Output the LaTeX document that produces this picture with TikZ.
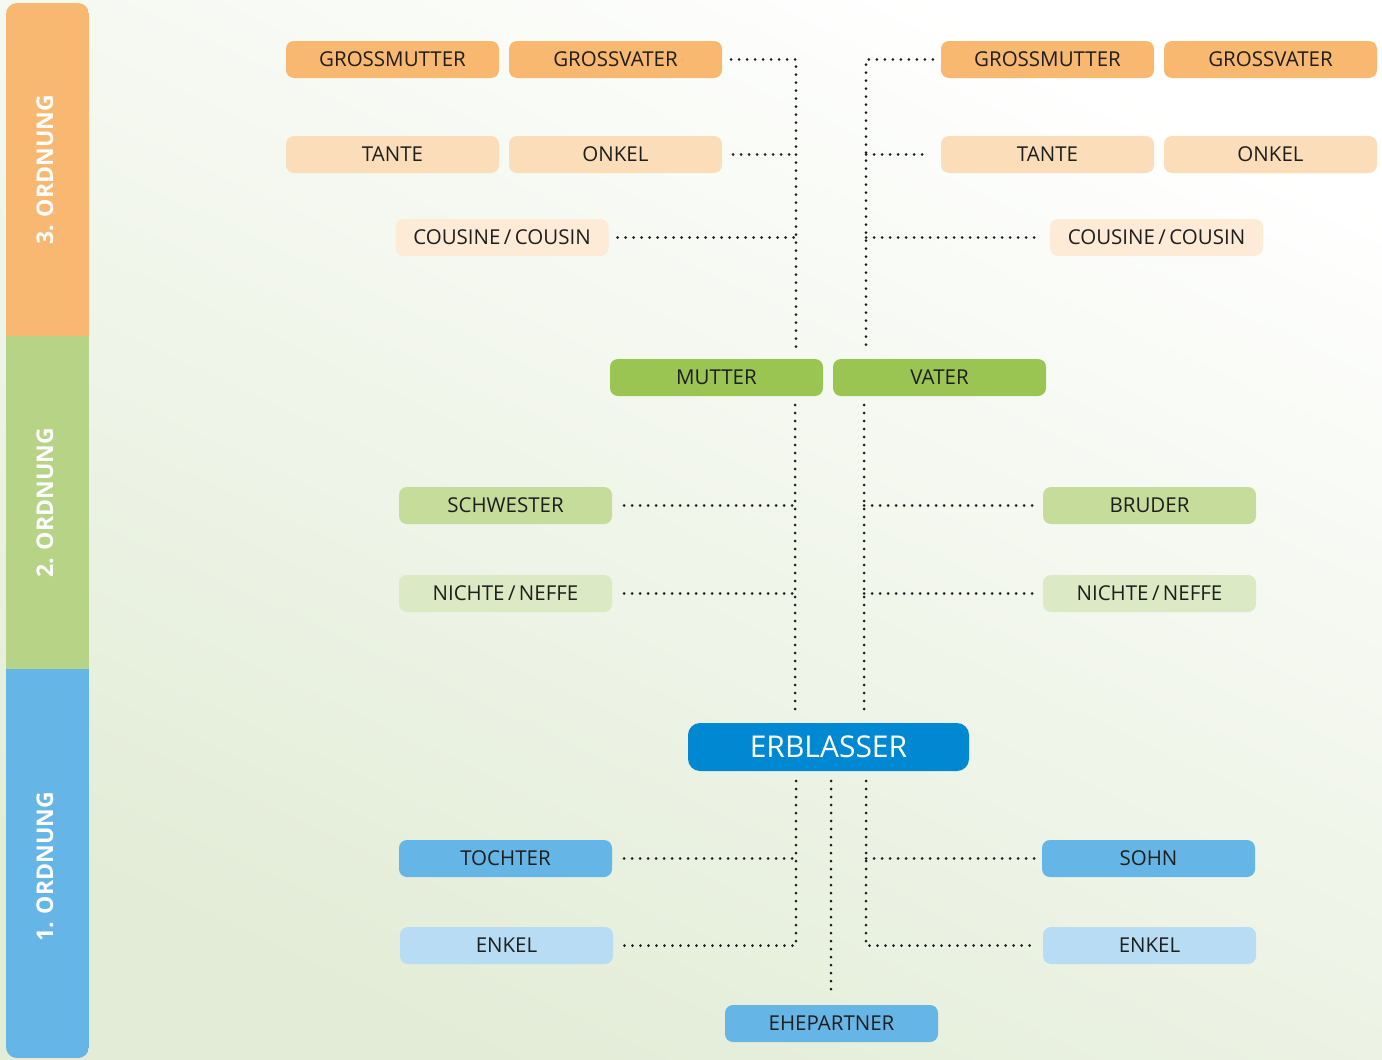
\documentclass[tikz,border=0pt]{standalone}
\usepackage{fontspec}
\setmainfont{Open Sans}
\usetikzlibrary{calc}

\begin{document}
\begin{tikzpicture}[x=1pt,y=-1pt,
  box/.style={rounded corners=8pt,minimum width=213pt,minimum height=37pt,inner sep=0pt,
    text=txt,font=\fontsize{20.5}{23}\selectfont},
  dots/.style={line width=3pt,line cap=round,dash pattern=on 0pt off 8pt,color=txt},
  band/.style={rotate=90,text=white,font=\bfseries\fontsize{23}{26}\selectfont}]

\definecolor{txt}{HTML}{1E1E1E}
\definecolor{bggreen}{HTML}{E2ECD6}
\definecolor{or1}{HTML}{F9B870}
\definecolor{or2}{HTML}{FCDDB9}
\definecolor{or3}{HTML}{FDEBD8}
\definecolor{gr1}{HTML}{9BC553}
\definecolor{gr2}{HTML}{C5DC9B}
\definecolor{gr3}{HTML}{DCE9C5}
\definecolor{bl0}{HTML}{0089D2}
\definecolor{bl1}{HTML}{65B5E6}
\definecolor{bl2}{HTML}{B9DCF5}
\definecolor{bandor}{HTML}{F9B872}
\definecolor{bandgr}{HTML}{B6D386}

\useasboundingbox (0,0) rectangle (1382,1060);
\shade[top color=white,bottom color=bggreen,shading angle=-25] (0,0) rectangle (1382,1060);

% Ordnung band
\begin{scope}
\clip[rounded corners=11pt] (6,3) rectangle (89,1058);
\fill[bandor] (6,3) rectangle (89,336);
\fill[bandgr] (6,336) rectangle (89,669);
\fill[bl1] (6,669) rectangle (89,1058);
\end{scope}
\node[band] (o3) at (45,170) {3. ORDNUNG};
\node[band] (o2) at (45,503) {2. ORDNUNG};
\node[band] (o1) at (45,867) {1. ORDNUNG};

% 3. Ordnung
\node[box,fill=or1] (gm1) at (392.5,59.5) {GROSSMUTTER};
\node[box,fill=or1] (gv1) at (615.5,59.5) {GROSSVATER};
\node[box,fill=or2] (ta1) at (392.5,154.5) {TANTE};
\node[box,fill=or2] (on1) at (615.5,154.5) {ONKEL};
\node[box,fill=or3] (co1) at (502,237.5) {COUSINE\,/\,COUSIN};
\node[box,fill=or1] (gm2) at (1047.5,59.5) {GROSSMUTTER};
\node[box,fill=or1] (gv2) at (1270.5,59.5) {GROSSVATER};
\node[box,fill=or2] (ta2) at (1047.5,154.5) {TANTE};
\node[box,fill=or2] (on2) at (1270.5,154.5) {ONKEL};
\node[box,fill=or3] (co2) at (1156.5,237.5) {COUSINE\,/\,COUSIN};

% 2. Ordnung
\node[box,fill=gr1] (mu) at (716.5,377.5) {MUTTER};
\node[box,fill=gr1] (va) at (939.5,377.5) {VATER};
\node[box,fill=gr2] (sw) at (505.5,505.5) {SCHWESTER};
\node[box,fill=gr3] (ni1) at (505.5,593.5) {NICHTE\,/\,NEFFE};
\node[box,fill=gr2] (br) at (1149.5,505.5) {BRUDER};
\node[box,fill=gr3] (ni2) at (1149.5,593.5) {NICHTE\,/\,NEFFE};

% 1. Ordnung
\node[box,fill=bl0,text=white,minimum width=281pt,minimum height=48pt,rounded corners=12pt,
  font=\fontsize{30}{33}\selectfont] (er) at (828.5,747) {ERBLASSER};
\node[box,fill=bl1] (to) at (505.5,858.5) {TOCHTER};
\node[box,fill=bl2] (en1) at (506.5,945.5) {ENKEL};
\node[box,fill=bl1] (so) at (1148.5,858.5) {SOHN};
\node[box,fill=bl2] (en2) at (1149.5,945.5) {ENKEL};
\node[box,fill=bl1] (eh) at (831.5,1023.5) {EHEPARTNER};

% trunks
\coordinate (a1) at (796,59.5); \coordinate (a2) at (796,350);
\coordinate (b1) at (866,59.5); \coordinate (b2) at (866,350);
\coordinate (c1) at (795,405);  \coordinate (c2) at (795,715);
\coordinate (d1) at (864,405);  \coordinate (d2) at (864,715);
\coordinate (e1) at (796,781);  \coordinate (e2) at (796,945.5);
\coordinate (f1) at (866,781);  \coordinate (f2) at (866,945.5);
\coordinate (g1) at (831,781);  \coordinate (g2) at (831,995);

\draw[dots] ([xshift=9pt]gv1.east) -- (a1) -- (a2);
\draw[dots] ([xshift=11pt]on1.east) -- (on1.east -| a1);
\draw[dots] ([xshift=9pt]co1.east) -- (co1.east -| a1);
\draw[dots] ([xshift=-8pt]gm2.west) -- (b1) -- (b2);
\draw[dots] (ta2.west -| b1) -- ([xshift=-12pt]ta2.west);
\draw[dots] (co2.west -| b1) -- ([xshift=-8pt]co2.west);

\draw[dots] (c1) -- (c2);
\draw[dots] ([xshift=12pt]sw.east) -- (sw.east -| c1);
\draw[dots] ([xshift=12pt]ni1.east) -- (ni1.east -| c1);
\draw[dots] (d1) -- (d2);
\draw[dots] (br.west -| d1) -- ([xshift=-8pt]br.west);
\draw[dots] (ni2.west -| d1) -- ([xshift=-8pt]ni2.west);

\draw[dots] (e1) -- (e2) -- ([xshift=11pt]en1.east);
\draw[dots] ([xshift=12pt]to.east) -- (to.east -| e1);
\draw[dots] (f1) -- (f2) -- ([xshift=-11pt]en2.west);
\draw[dots] (so.west -| f1) -- ([xshift=-7pt]so.west);
\draw[dots] (g1) -- (g2);

\end{tikzpicture}
\end{document}
